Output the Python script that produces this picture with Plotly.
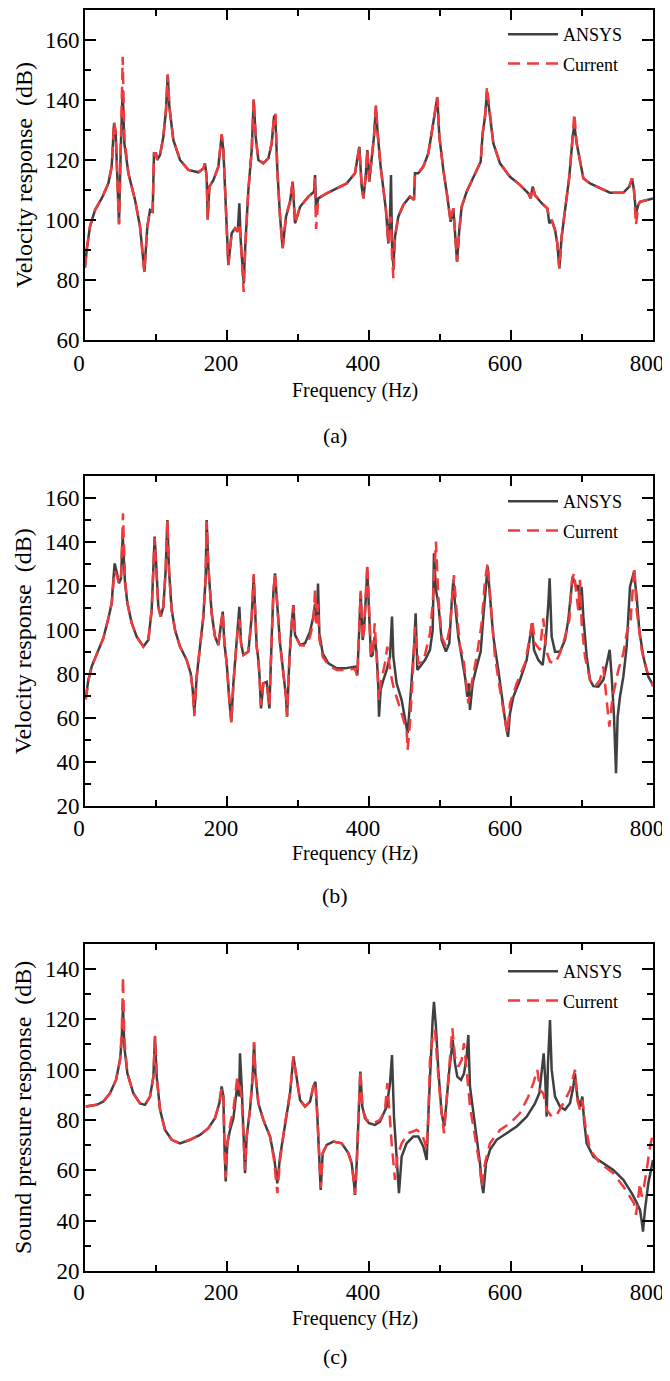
import plotly.graph_objects as go

# ---------------- Panel (a): velocity response ----------------
freq_a = [0, 2.4, 7, 14.1, 23.5, 32.9, 37.6, 40.9, 43.2, 45.1, 47.9, 50.3, 53.1, 55.4, 61.1, 70.5,
          77.5, 83.6, 87.8, 91.6, 95.3, 97.2, 100, 101.9, 105.7, 110.4, 114.1, 116.5, 118.8, 124.4,
          133.8, 145.6, 159.7, 166.7, 169, 171.4, 172.8, 175.2, 180.8, 187.8, 192.5, 194.9, 198.6,
          201.9, 206.6, 211.3, 215.1, 217.4, 219.3, 222.1, 223.5, 225.9, 230.1, 234.8, 237.6, 240.4,
          244.2, 251.2, 258.3, 263, 266.2, 268.1, 270.9, 274.7, 278.4, 283.1, 288.8, 292.5, 295.8,
          302.9, 314.6, 322.6, 324, 325.4, 328.7, 340.4, 354.5, 368.6, 380.3, 386.4, 389.7, 392.1,
          395.3, 397.7, 400.4, 403.7, 407, 409.8, 412.2, 416.4, 420.2, 423.9, 427.2, 429.6, 431,
          432.4, 434.3, 436.6, 441.3, 448.3, 457.7, 463.4, 464.8, 469.5, 476.5, 483.5, 488.2, 492.9,
          496.2, 499.1, 504.7, 510.3, 515, 518.8, 521.6, 524, 527.2, 530.5, 537.5, 546.9, 557.3,
          560.1, 563.4, 566.2, 569.5, 575.1, 584.5, 598.6, 612.6, 624.4, 627.7, 630.5, 633.8, 643.2,
          651.2, 654, 657.3, 662, 665.2, 668.1, 671.3, 676.2, 682.1, 686.9, 689.2, 692.5, 697.2,
          701.9, 711.3, 725.3, 739.4, 758.2, 766.6, 770.4, 773.2, 776, 779.3, 781.7, 791.1, 800]
ansys_a = [84.4, 90, 97.8, 103.3, 107.2, 112.2, 117.8, 132.2, 129.4, 114.4, 98.9, 123.3, 143.3, 125.6,
           115.6, 106.7, 97.8, 82.8, 97.8, 103.3, 102.8, 122.2, 122.2, 120, 121.7, 127.8, 136.7, 148.3,
           137.8, 126.7, 120, 116.7, 115.9, 117.2, 118.9, 114.4, 100.6, 111.1, 113.3, 117.8, 128.3,
           123.3, 101.1, 85, 95.6, 97.2, 96.1, 105.6, 93.3, 83.3, 78.9, 92.2, 110, 123.3, 140, 127.8,
           120, 118.9, 120.6, 125.6, 134.4, 135, 116.7, 101.1, 90.6, 101.1, 106.1, 112.8, 98.9, 104.4,
           107.8, 109.4, 115, 103.3, 107.2, 108.9, 110.6, 112.2, 115.6, 124.4, 111.1, 107.2, 114.4,
           123.3, 112.8, 120, 127.8, 137.8, 128.9, 117.8, 110, 103.3, 92.2, 101.1, 115, 92.2, 84.4,
           94.4, 101.1, 105, 107.8, 106.7, 115.6, 115.6, 117.8, 122.2, 128.9, 136.7, 140.9, 127.8,
           116.7, 107.8, 99.4, 103.9, 94.4, 86.1, 96.7, 104.4, 109.4, 113.9, 119.4, 128.9, 134.4,
           142.8, 136.7, 125.6, 118.9, 114.4, 111.7, 108.9, 107.2, 111.1, 108.3, 105.6, 103.9, 98.9,
           100, 96.7, 92.2, 83.9, 94.4, 104.4, 114.4, 127.8, 131.7, 125.6, 120, 113.9, 112.2, 110.6,
           109.1, 109.1, 111.1, 113.9, 110, 102.2, 105, 106.1, 106.7, 107.2]
current_a = [84.0, 90, 97.8, 103.3, 107.2, 112.2, 117.8, 132.8, 129.4, 114.4, 98.5, 123.3, 154.4, 128.0,
             115.6, 106.7, 97.8, 82.5, 97.8, 103.3, 102.8, 122.2, 122.2, 120, 121.7, 127.8, 136.7, 148.6,
             137.8, 126.7, 120, 116.7, 115.9, 117.2, 118.9, 114.4, 100.0, 111.1, 113.3, 117.8, 128.6,
             123.3, 101.1, 85, 95.6, 97.2, 96.1, 99.0, 93.3, 82.0, 76.0, 92.2, 110, 123.3, 140.5, 127.8,
             120, 118.9, 120.6, 125.6, 134.4, 135.5, 116.7, 101.1, 90.6, 101.1, 106.1, 112.8, 98.9, 104.4,
             107.8, 109.4, 114.0, 97.0, 107.2, 108.9, 110.6, 112.2, 115.6, 124.4, 111.1, 107.2, 114.4,
             123.3, 112.8, 120, 127.8, 138.3, 128.9, 117.8, 110, 103.3, 92.2, 100.5, 101.0, 88.0, 80.6,
             94.4, 101.1, 105, 107.8, 106.7, 115.6, 115.6, 117.8, 122.2, 128.9, 136.7, 141.0, 127.8,
             116.7, 107.8, 99.4, 103.9, 94.4, 86.1, 96.7, 104.4, 109.4, 113.9, 119.4, 128.9, 134.4,
             144.4, 136.7, 125.6, 118.9, 114.4, 111.7, 108.9, 107.2, 111.1, 108.3, 105.6, 103.9, 100.5,
             100, 96.7, 92.2, 83.9, 94.4, 104.4, 114.4, 127.8, 135.6, 125.6, 120, 113.9, 112.2, 110.6,
             109.1, 109.1, 111.1, 113.9, 110, 98.3, 105, 106.1, 106.7, 107.2]

# ---------------- Panel (b): velocity response ----------------
freq_b_ansys = [1, 4.7, 9.4, 16.5, 25.8, 32.9, 37.6, 39.9, 41.8, 44.6, 47.9, 50.7, 53.1, 56.4, 59.7, 65.8,
                72.8, 82.2, 89.2, 93.9, 96.3, 98.1, 100, 103.3, 106.6, 110.4, 113.6, 116, 118.3, 122.1,
                126.8, 133.8, 143.2, 148.9, 151.7, 154, 157.3, 162, 166.7, 170, 171.4, 173.7, 178.4, 183.1,
                187.8, 191.1, 194, 196.3, 199.6, 203.3, 206.1, 209, 212.2, 215.1, 217.4, 219.8, 223.1,
                230.1, 234.8, 237.6, 240, 241.8, 243.7, 245.6, 247.9, 251.2, 255.9, 259.7, 263, 265.3,
                267.6, 270.9, 274.7, 279.4, 283.1, 284.6, 287.8, 291.1, 293.5, 295.8, 302.9, 309.9, 316.9,
                321.6, 324, 326.3, 328.2, 330.1, 334.8, 342.8, 354.5, 366.2, 380.3, 383.6, 386.4, 388.3,
                391.1, 393, 397.6, 400, 402.8, 405.1, 408, 410.8, 413.1, 414.1, 416.4, 420.2, 424.9, 429.6,
                432.4, 434.3, 438.9, 446, 450.7, 454.4, 457.7, 461.5, 463.8, 465.7, 468.1, 471.8, 478.9,
                485.9, 489.7, 491.5, 494.3, 497.6, 502.3, 508.4, 513.1, 516.4, 518.8, 521.1, 525.8, 530.5,
                535.2, 538.5, 540.4, 542.2, 546, 551.6, 557.3, 561, 564.8, 567.1, 570.4, 575.1, 582.1,
                588.2, 593, 595.8, 598.6, 603.3, 612.7, 622.1, 626.7, 629.6, 632.4, 638.5, 644.6, 649.3,
                652.6, 654.4, 657.3, 662, 669, 676.1, 680.7, 684, 686.8, 690.1, 692.5, 694.8, 697.2, 699.5,
                701.9, 706.6, 711.3, 716, 723, 730, 735.7, 739, 741.8, 745.1, 747.9, 750.2, 753.5, 758.2,
                762.9, 767.6, 773.2, 777, 780.7, 786.4, 793.4, 800]
ansys_b = [69.1, 77.4, 83.5, 88.8, 96.4, 105.4, 112.3, 122.9, 130.4, 126.6, 121.4, 123.6, 143, 121.4, 112.3,
           103.2, 97.1, 92.6, 95.6, 109.2, 125.9, 142.6, 132, 110.7, 106.2, 110.7, 127.4, 150.1, 127.4, 109.2,
           100.1, 92.6, 86.5, 80.4, 72.9, 62.3, 78.9, 92.6, 106.2, 124.4, 150.1, 128.9, 107.7, 97.1, 93.3,
           101.6, 108.5, 94.1, 85, 68.3, 58.5, 75.9, 89.5, 100.1, 110.7, 94.1, 88.8, 90.3, 106.2, 124.4,
           106.2, 92.6, 88, 80.4, 64.5, 75.9, 76.6, 64.5, 97.1, 116.8, 125.9, 109.2, 94.1, 80.4, 69.8, 60.7,
           86.5, 103.2, 111.5, 97.9, 93.3, 94.1, 99.4, 106.2, 112, 103.2, 121.3, 98.6, 89.5, 85, 82.7, 82.7,
           83.5, 79.7, 101.6, 116.8, 95.6, 100.1, 127, 109.2, 88, 88.8, 97.1, 89.5, 74.4, 60.7, 72.9, 77.4,
           82, 88, 106.2, 88, 75.9, 68.3, 60.7, 53.2, 66.8, 82, 94.1, 107.7, 82, 83.5, 86.5, 91.1, 100.1,
           135, 118.3, 112.3, 95.6, 90.3, 94.1, 112.3, 122.9, 112.3, 97.1, 88, 78.9, 69.8, 75.9, 63.8, 75.9,
           83.5, 90.3, 106.2, 122.9, 128.9, 115.3, 97.1, 82, 66.8, 56.2, 51.6, 62.3, 69.8, 77.4, 86.5, 95.6,
           103.2, 91.1, 86.5, 84.2, 97.1, 112.3, 123.6, 97.1, 90.3, 90.3, 95.6, 104.7, 115.3, 124.4, 121.4,
           118.3, 120.6, 109.2, 119.8, 106.2, 88, 77.4, 74.6, 74.4, 77.4, 86.5, 91.1, 78.9, 60.7, 35, 60.7,
           69.8, 78.9, 92.6, 119.8, 126.6, 115.3, 100.1, 88, 78.9, 75.1]

freq_b_current = [1, 4.7, 9.4, 16.5, 25.8, 32.9, 37.6, 39.9, 41.8, 44.6, 47.9, 50.7, 53.5, 56.4, 59.7, 65.8,
                  72.8, 82.2, 89.2, 93.9, 96.3, 98.1, 100, 103.3, 106.6, 110.4, 113.6, 116, 118.3, 122.1,
                  126.8, 133.8, 143.2, 148.9, 151.7, 154, 157.3, 162, 166.7, 170, 171.4, 173.7, 178.4,
                  183.1, 187.8, 191.1, 194, 196.3, 199.6, 203.3, 206.1, 209, 212.2, 215.1, 217.4, 219.8,
                  223.1, 230.1, 234.8, 237.6, 240, 241.8, 243.7, 245.6, 247.9, 251.2, 255.9, 259.7, 263,
                  265.3, 267.6, 270.9, 274.7, 279.4, 283.1, 284.6, 287.8, 291.1, 293.5, 295.8, 302.9, 309.9,
                  316.9, 321.6, 324, 326.3, 328.2, 330.1, 334.8, 342.8, 354.5, 366.2, 380.3, 383.6, 386.4,
                  388.3, 391.1, 393, 397.6, 400, 402.8, 405.1, 408, 410.8, 413.1, 414.1, 416.4, 422.5, 425.8,
                  429.6, 434.3, 441.3, 448.3, 453, 454.4, 457.7, 461.5, 464.8, 469.5, 476.5, 485.9, 489.7,
                  494.3, 497.6, 502.3, 508.4, 514.1, 519.7, 522.5, 528.2, 532.8, 536.6, 539.9, 544.6, 551.6,
                  558.7, 563.4, 567.1, 571.3, 577.4, 584.5, 591.5, 594.8, 598.6, 608, 619.7, 626.7, 630,
                  633.8, 640.8, 645.5, 649.3, 654.9, 662, 669, 676.1, 682.1, 685.9, 688.7, 692.5, 694.8,
                  697.2, 699.5, 704.2, 711.3, 718.3, 725.3, 730, 734.7, 738.5, 743.2, 751.2, 758.2, 762.9,
                  768.5, 771.4, 773.7, 777, 784, 791.1, 800]
current_b = [68.5, 77, 83.5, 88.8, 96.4, 105.4, 112.3, 121, 127, 125, 121.4, 125, 153.2, 123, 112.3, 103.2,
             97.1, 92.6, 95.6, 109.2, 125.9, 142, 130, 110.7, 106.2, 110.7, 127.4, 150.1, 127.4, 109.2, 100.1,
             92.6, 86.5, 80.4, 72.9, 61, 78.9, 92.6, 106.2, 124.4, 149.5, 128.9, 107.7, 97.1, 93.3, 102, 108.5,
             94.1, 85, 68.3, 57.7, 75.9, 89.5, 100.1, 105, 94.1, 88.8, 90.3, 106.2, 125.6, 106.2, 92.6, 88,
             80.4, 66, 75.9, 76.6, 66, 97.1, 116.8, 125.9, 109.2, 94.1, 80.4, 69.8, 61, 86.5, 103.2, 111,
             97.9, 93.3, 93, 97, 104, 118.3, 103.2, 112, 96, 88, 84, 82, 82, 82.5, 79, 101.6, 118, 95.6,
             100.1, 130.4, 109.2, 88, 88.8, 103.2, 88, 76, 68.3, 75.9, 85, 92.6, 82, 74.4, 66.8, 59.2, 54.7,
             45.6, 57.7, 79, 101.6, 85, 85.7, 98.6, 112.3, 140.3, 115.3, 97.1, 92.6, 101.6, 125.1, 112.3,
             92.6, 88, 77.4, 66.8, 75.9, 88, 103.2, 122.9, 130.4, 112.3, 88, 72.9, 59.2, 53.2, 66.8, 75.9,
             85, 97.1, 104.7, 94.1, 91.1, 105.4, 91.1, 85.7, 85, 89.5, 97.1, 104.7, 122.9, 125.9, 115.3,
             109.2, 122.9, 103.2, 88, 77.4, 74.4, 77.4, 83.5, 68.3, 56.2, 69.8, 82, 89.5, 98.6, 104.7, 119.8,
             128.9, 109.2, 91.1, 82, 74.4]

# ---------------- Panel (c): sound pressure response ----------------
freq_c_ansys = [1, 16.5, 25.8, 35.2, 43.7, 49.3, 51.7, 53.5, 55.4, 59.7, 68.1, 77.5, 84.5, 91.6, 96.3, 98.6,
                101, 105.7, 112.7, 122.1, 133.8, 147.9, 162, 173.7, 183.1, 189.2, 192.5, 194.9, 196.3, 198.2,
                200.5, 204.3, 209, 212.2, 214.6, 217, 218.3, 220.7, 223.1, 225.4, 227.7, 232.4, 236.2, 238.1,
                240, 244.2, 251.2, 260.6, 266.2, 270.9, 274.7, 281.7, 288.8, 293.5, 298.2, 302.9, 309.9, 317,
                321.6, 324.5, 327.3, 330.1, 332, 334.8, 340.4, 349.8, 361.5, 370.9, 375.6, 378.9, 380.3,
                382.7, 385.5, 387.8, 390.6, 394.4, 400, 408.4, 415.5, 424.9, 429.6, 432.4, 435.2, 438.9,
                442.2, 446, 453, 462.4, 469.5, 476.5, 481.2, 483.5, 486.8, 489.6, 491.5, 494.3, 497.6, 502.3,
                506.1, 509.4, 513.1, 516.4, 517.8, 521.1, 524.4, 529.6, 533.8, 537.5, 539.9, 542.2, 547,
                551.6, 556.3, 558.7, 561, 564.8, 570.4, 579.8, 593.9, 608, 622.1, 633.8, 639.9, 643.6, 646,
                648.3, 650.2, 652.1, 654.9, 657.3, 662, 669, 676.1, 683.1, 687.8, 690.1, 693.4, 697.2, 700.5,
                702.8, 706.6, 716, 730, 744.1, 758.2, 770, 777, 781.7, 784.5, 785.9, 788.7, 793.4, 800]
ansys_c = [85.3, 86, 87.3, 90.6, 95.9, 103.8, 111.8, 125, 109.1, 98.5, 90.6, 86.6, 86, 89.3, 97.2, 113.1,
           97.2, 84, 76, 72.1, 70.7, 72.1, 74.05, 76.7, 80.7, 86.6, 93.3, 89.3, 70.7, 55.5, 70.7, 76, 80.7,
           87.9, 94, 89.3, 106.5, 93.3, 70.7, 58.8, 73.4, 84, 97.2, 110.5, 98.5, 86.6, 80, 73.4, 65.4, 54.8,
           65.4, 78.7, 90.6, 105.2, 95.9, 87.9, 85.3, 87.3, 93.3, 95.2, 81.3, 64.1, 52.2, 66.8, 70.1, 71.4,
           70.7, 66.8, 62.8, 54.8, 50.2, 62.8, 82.7, 99.2, 85.3, 80.7, 78.7, 78, 79.3, 85.3, 94.6, 105.8,
           81.3, 62.8, 50.9, 65.4, 70.7, 73.4, 73.4, 69.4, 64.1, 81.3, 105.2, 119.7, 127, 117.1, 99.9, 82.7,
           77.4, 89.3, 99.9, 107.8, 111.8, 102.5, 97.2, 95.9, 98.5, 105.2, 113.8, 93.3, 82.7, 73.4, 62.8,
           54.8, 50.9, 62.8, 68.1, 72.1, 74.7, 77.4, 81.3, 86.6, 90.6, 99.9, 106.5, 95.9, 81.3, 102.5, 119.7,
           99.9, 89.3, 85.3, 84, 86.6, 93.3, 98.5, 89.3, 85.3, 89.3, 80, 70.7, 65.4, 62.8, 60.1, 56.2, 50.9,
           47.1, 44.2, 38.9, 35.6, 44.2, 54.8, 64.1]

freq_c_current = [1, 16.5, 25.8, 35.2, 43.7, 49.3, 51.7, 53.5, 55.4, 59.7, 68.1, 77.5, 84.5, 91.6, 96.3, 98.6,
                  101, 105.7, 112.7, 122.1, 133.8, 147.9, 162, 173.7, 183.1, 189.2, 192.5, 194.9, 196.3,
                  198.2, 200.5, 204.3, 209, 212.2, 214.6, 217, 218.3, 220.7, 223.1, 225.4, 227.7, 232.4,
                  236.2, 238.1, 240, 244.2, 251.2, 260.6, 266.2, 270.9, 274.7, 281.7, 288.8, 293.5, 298.2,
                  302.9, 309.9, 317, 321.6, 324.5, 327.3, 330.1, 332, 334.8, 340.4, 349.8, 361.5, 370.9,
                  375.6, 378.9, 380.3, 382.7, 385.5, 387.8, 391, 396.7, 406.1, 415.5, 422.5, 425.8, 428.6,
                  431.9, 436.6, 439.9, 446, 455.4, 467.1, 474.2, 478.9, 481.2, 483.5, 485.9, 489.6, 492.9,
                  496.2, 500.9, 505.6, 509.4, 514.1, 517.4, 521.1, 525.8, 530.5, 533.8, 537.5, 542.2, 549.3,
                  555.4, 559.1, 563.4, 570.4, 584.5, 598.6, 612.7, 624.4, 631.5, 637.1, 640.8, 645.5, 650.2,
                  657.3, 664.3, 673.7, 683.1, 690.1, 693.4, 697.2, 700.5, 704.2, 711.3, 725.3, 744.1, 758.2,
                  767.6, 773.2, 776.1, 779.3, 781.7, 784, 787.3, 791.1, 795.8, 800]
current_c = [85.3, 86, 87.3, 90.6, 95.9, 104, 114, 137, 112, 98.5, 90.6, 86.6, 86, 89.3, 97.2, 113.5, 97.2, 84,
             76, 72.1, 70.7, 72.1, 74.05, 76.7, 80.7, 86.6, 92.5, 89.3, 72, 57, 70.7, 78, 84, 92, 97.2, 92, 95,
             88, 70.7, 60, 73.4, 84, 97.2, 111, 98.5, 86.6, 80, 73.4, 64, 50.9, 64, 78.7, 90.6, 105.2, 95.9,
             87.9, 85.3, 87.3, 93.3, 95, 81.3, 64.1, 53, 66.8, 70.1, 71.4, 70.7, 66.8, 62.8, 55, 50.5, 62.8, 85,
             99.9, 84, 80, 78.7, 80, 84, 94.6, 84, 70.7, 56.2, 65.4, 70.7, 74.7, 76, 74.7, 70.7, 68.1, 81.3,
             103.8, 113.1, 115.8, 102.5, 86.6, 74.7, 89.3, 105.2, 116.4, 105.2, 101.2, 103.8, 110.5, 99.9,
             85.3, 73.4, 62.8, 53.5, 62.8, 70.7, 76, 78.7, 82.7, 89.3, 94.6, 99.9, 91.9, 90.6, 84, 81.3, 82,
             86.6, 91.9, 99.9, 87.9, 84, 87.9, 78.7, 68.1, 62.8, 58.8, 53.5, 49.5, 46.9, 42.3, 50.9, 54.8,
             49.5, 53.5, 60.1, 69.4, 74.7]

x_ticks = [0, 200, 400, 600, 800]
series_names = ["ANSYS", "Current"]
y_titles = ["Velocity response  (dB)", "Velocity response  (dB)", "Sound pressure response  (dB)"]
captions = ["(a)", "(b)", "(c)"]
x_title = "Frequency (Hz)"

FONT = "Liberation Serif, Times New Roman, Tinos, serif"
GRAY = "#404040"
RED = "#f03a3c"

# The page body keeps an 8px margin, so the figure starts 8px right/down of the window corner.
OFF = 8
W, H = 670 - OFF, 1381 - OFF


def px(v):  # window px -> figure px
    return v - OFF


x_dom = [px(85) / W, px(653) / W]
# (top, bottom) of each plot area, in window px
panels_win = [(10, 340), (476.3, 806.3), (943.9, 1270.8)]
y_ranges = [[60, 170], [20, 170], [20, 150]]
xlabel_standoff = [1, 0, 0]


def ydom(top, bot):
    return [1 - px(bot) / H, 1 - px(top) / H]


fig = go.Figure()
data = [
    (freq_a, ansys_a, freq_a, current_a),
    (freq_b_ansys, ansys_b, freq_b_current, current_b),
    (freq_c_ansys, ansys_c, freq_c_current, current_c),
]
legend_ids = ["legend", "legend2", "legend3"]
for i, (fa, va, fc, vc) in enumerate(data):
    xa = "x" if i == 0 else f"x{i+1}"
    ya = "y" if i == 0 else f"y{i+1}"
    fig.add_trace(go.Scatter(x=fa, y=va, mode="lines", name=series_names[0],
                             line=dict(color=GRAY, width=2.5), xaxis=xa, yaxis=ya,
                             legend=legend_ids[i], legendgroup=f"g{i}a"))
    fig.add_trace(go.Scatter(x=fc, y=vc, mode="lines", name=series_names[1],
                             line=dict(color=RED, width=2.5, dash="12px,7px"), xaxis=xa, yaxis=ya,
                             legend=legend_ids[i], legendgroup=f"g{i}b"))

layout = dict(
    template="none",
    width=W, height=H, margin=dict(l=0, r=0, t=0, b=0, pad=0, autoexpand=False),
    paper_bgcolor="white", plot_bgcolor="white",
    font=dict(family=FONT, size=23, color="black"),
)

for i in range(3):
    top, bot = panels_win[i]
    xk = "xaxis" if i == 0 else f"xaxis{i+1}"
    yk = "yaxis" if i == 0 else f"yaxis{i+1}"
    ya = "y" if i == 0 else f"y{i+1}"
    xa = "x" if i == 0 else f"x{i+1}"
    layout[xk] = dict(
        domain=x_dom, anchor=ya, range=[0, 800], tickvals=x_ticks, automargin=False,
        ticks="inside", ticklen=10, tickwidth=1.5, tickcolor="black",
        minor=dict(dtick=100, ticks="inside", ticklen=6, tickwidth=1.5, tickcolor="black"),
        showline=True, linecolor="black", linewidth=2, mirror="allticks",
        showgrid=False, zeroline=False, ticklabeloverflow="allow",
        tickfont=dict(family=FONT, size=23, color="black"), ticklabelshift=-6,
        ticklabelstandoff=xlabel_standoff[i],
    )
    layout[yk] = dict(
        domain=ydom(top, bot), anchor=xa, range=y_ranges[i], dtick=20, automargin=False,
        ticks="inside", ticklen=11, tickwidth=1.5, tickcolor="black",
        minor=dict(dtick=10, ticks="inside", ticklen=6, tickwidth=1.5, tickcolor="black"),
        showline=True, linecolor="black", linewidth=2, mirror="allticks",
        showgrid=False, zeroline=False, ticklabeloverflow="allow",
        tickfont=dict(family=FONT, size=23, color="black"), ticklabelstandoff=-1,
        title=dict(text=y_titles[i], font=dict(family=FONT, size=24, color="black"), standoff=6),
    )

leg_tops_win = [16, 483, 953]
for i in range(3):
    lk = "legend" if i == 0 else f"legend{i+1}"
    layout[lk] = dict(
        x=px(503) / W, xanchor="left", y=1 - px(leg_tops_win[i]) / H, yanchor="top",
        bgcolor="rgba(0,0,0,0)", borderwidth=0,
        font=dict(family=FONT, size=18, color="black"),
        tracegroupgap=3, itemwidth=50,
    )

annos = []
cap_y_win = [436, 895, 1356]
xtitle_y_win = [390, 853, 1318]
for i in range(3):
    annos.append(dict(text=x_title, x=px(355) / W, y=1 - px(xtitle_y_win[i]) / H,
                      xref="paper", yref="paper", xanchor="center", yanchor="middle",
                      showarrow=False, font=dict(family=FONT, size=20, color="black")))
    annos.append(dict(text=captions[i], x=px(335) / W, y=1 - px(cap_y_win[i]) / H,
                      xref="paper", yref="paper", xanchor="center", yanchor="middle",
                      showarrow=False, font=dict(family=FONT, size=22, color="black")))
layout["annotations"] = annos

fig.update_layout(**layout)
fig.write_html("out.html")
